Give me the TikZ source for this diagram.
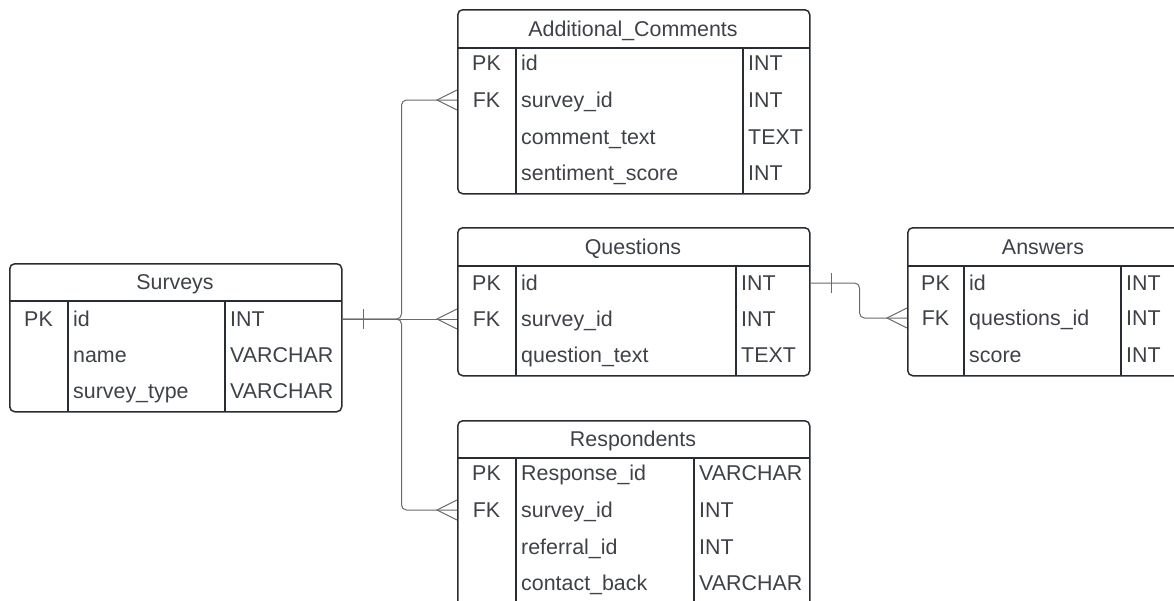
\documentclass[tikz,border=0pt]{standalone}
\usepackage{fontspec}
\setmainfont{Liberation Sans}
\usetikzlibrary{calc}
\definecolor{ink}{HTML}{282C33}
\definecolor{txt}{HTML}{3E4148}
\definecolor{wire}{HTML}{6A6A6A}

\begin{document}
\begin{tikzpicture}[x=1pt, y=-1pt,
   table/.style={draw=ink, line width=1.5pt, rounded corners=5pt, inner sep=0pt, anchor=north west},
   rule/.style={draw=ink, line width=1.5pt},
   cell/.style={anchor=west, inner sep=0pt, text=txt, text height=15pt, text depth=0pt, font=\fontsize{21.4}{24}\selectfont},
   key/.style={cell, anchor=center},
   title/.style={cell, anchor=center},
   link/.style={draw=wire, line width=1pt, rounded corners=5pt}]
   \clip (0,0) rectangle (1174,600);

   % Surveys
   \node[table, minimum width=332pt, minimum height=148pt] (sv) at (9,263) {};
   \draw[rule] (9,301) -- (341,301);
   \draw[rule] (68,301) -- (68,411);
   \draw[rule] (225,301) -- (225,411);
   \node[title] (svt) at (175,282) {Surveys};
   \node[key] (svk1) at (38.5,319) {PK};
   \node[cell] (svpk) at (73,319) {id};
   \node[cell] (svn2) at (73,355) {name};
   \node[cell] (svn3) at (73,391) {survey\_type};
   \node[cell] (svd1) at (230,319) {INT};
   \node[cell] (svd2) at (230,355) {VARCHAR};
   \node[cell] (svd3) at (230,391) {VARCHAR};

   % Additional_Comments
   \node[table, minimum width=352pt, minimum height=184pt] (ac) at (457,9) {};
   \draw[rule] (457,48) -- (809,48);
   \draw[rule] (516,48) -- (516,193);
   \draw[rule] (743,48) -- (743,193);
   \node[title] (act) at (633,28.5) {Additional\_Comments};
   \node[key] (ack1) at (486.5,63) {PK};
   \node[key] (ack2) at (486.5,100) {FK};
   \node[cell] (acn1) at (521,63) {id};
   \node[cell] (acfk) at (521,100) {survey\_id};
   \node[cell] (acn3) at (521,137) {comment\_text};
   \node[cell] (acn4) at (521,173) {sentiment\_score};
   \node[cell] (acd1) at (748,63) {INT};
   \node[cell] (acd2) at (748,100) {INT};
   \node[cell] (acd3) at (748,137) {TEXT};
   \node[cell] (acd4) at (748,173) {INT};

   % Questions
   \node[table, minimum width=352pt, minimum height=148pt] (q) at (457,227) {};
   \draw[rule] (457,266) -- (809,266);
   \draw[rule] (516,266) -- (516,375);
   \draw[rule] (736,266) -- (736,375);
   \node[title] (qt) at (633,246.5) {Questions};
   \node[key] (qk1) at (486.5,283) {PK};
   \node[key] (qk2) at (486.5,319) {FK};
   \node[cell] (qpk) at (521,283) {id};
   \node[cell] (qfk) at (521,319) {survey\_id};
   \node[cell] (qn3) at (521,355) {question\_text};
   \node[cell] (qd1) at (741,283) {INT};
   \node[cell] (qd2) at (741,319) {INT};
   \node[cell] (qd3) at (741,355) {TEXT};

   % Answers
   \node[table, minimum width=280pt, minimum height=148pt] (an) at (907,227) {};
   \draw[rule] (907,266) -- (1187,266);
   \draw[rule] (964,266) -- (964,375);
   \draw[rule] (1121,266) -- (1121,375);
   \node[title] (ant) at (1043,246.5) {Answers};
   \node[key] (ank1) at (935.5,283) {PK};
   \node[key] (ank2) at (935.5,318) {FK};
   \node[cell] (ann1) at (969,283) {id};
   \node[cell] (anfk) at (969,318) {questions\_id};
   \node[cell] (ann3) at (969,355) {score};
   \node[cell] (and1) at (1126,283) {INT};
   \node[cell] (and2) at (1126,318) {INT};
   \node[cell] (and3) at (1126,355) {INT};

   % Respondents
   \node[table, minimum width=352pt, minimum height=200pt] (re) at (457,420) {};
   \draw[rule] (457,458) -- (809,458);
   \draw[rule] (516,458) -- (516,620);
   \draw[rule] (694,458) -- (694,620);
   \node[title] (ret) at (633,439) {Respondents};
   \node[key] (rek1) at (486.5,473) {PK};
   \node[key] (rek2) at (486.5,510) {FK};
   \node[cell] (ren1) at (521,473) {Response\_id};
   \node[cell] (refk) at (521,510) {survey\_id};
   \node[cell] (ren3) at (521,547) {referral\_id};
   \node[cell] (ren4) at (521,583) {contact\_back};
   \node[cell] (red1) at (699,473) {VARCHAR};
   \node[cell] (red2) at (699,510) {INT};
   \node[cell] (red3) at (699,547) {INT};
   \node[cell] (red4) at (699,583) {VARCHAR};

   % relations
   \draw[link] (sv.east |- svpk) -- ++(59,0) |- (ac.west |- acfk);
   \draw[link] (sv.east |- svpk) -- (q.west |- qfk);
   \draw[link] (sv.east |- svpk) -- ++(59,0) |- (re.west |- refk);
   \draw[link] (q.east |- qpk) -- ++(49,0) |- (an.west |- anfk);

   % one side ticks
   \draw[link] ($(sv.east |- svpk)+(21,-10)$) -- ++(0,20);
   \draw[link] ($(q.east |- qpk)+(21,-10)$) -- ++(0,20);

   % many side feet
   \draw[link, rounded corners=0pt] ($(ac.west |- acfk)+(0,-10)$) -- ++(-20,10) -- ++(20,10);
   \draw[link, rounded corners=0pt] ($(q.west |- qfk)+(0,-10)$) -- ++(-20,10) -- ++(20,10);
   \draw[link, rounded corners=0pt] ($(re.west |- refk)+(0,-10)$) -- ++(-20,10) -- ++(20,10);
   \draw[link, rounded corners=0pt] ($(an.west |- anfk)+(0,-10)$) -- ++(-20,10) -- ++(20,10);
\end{tikzpicture}
\end{document}
